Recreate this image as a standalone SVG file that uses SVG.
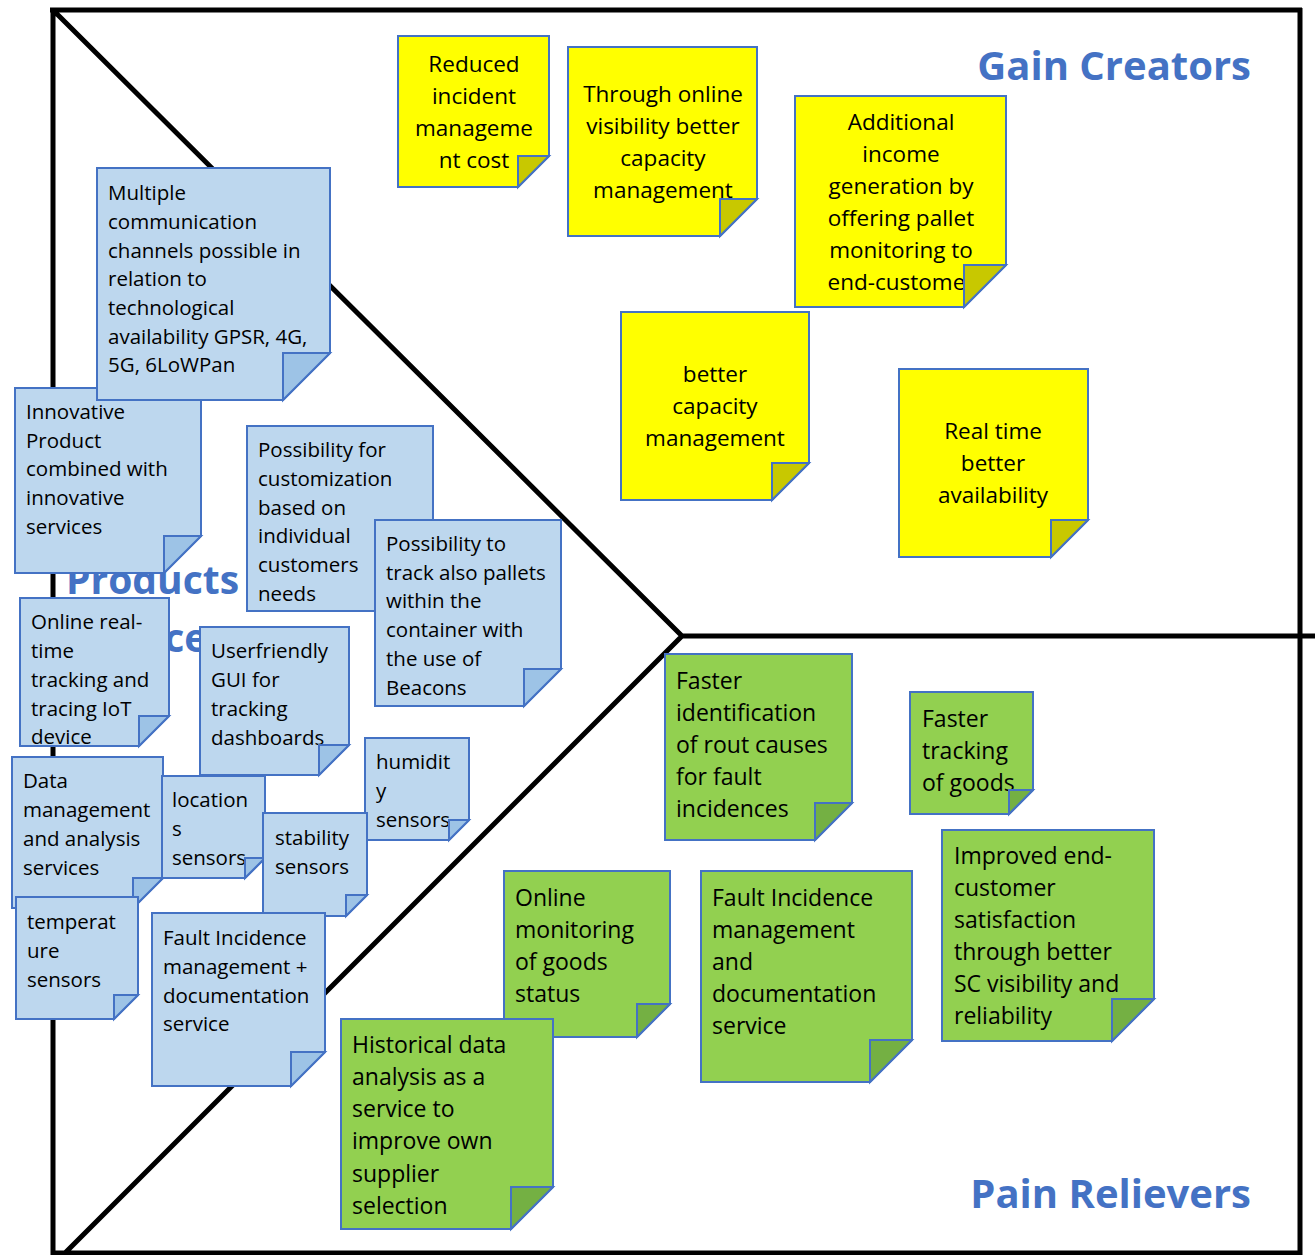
<svg xmlns="http://www.w3.org/2000/svg" width="1315" height="1255" viewBox="0 0 1315 1255">
<style>
.frame{stroke:#000;stroke-width:5;fill:none}
.b{fill:#BDD7EE;stroke:#4472C4;stroke-width:2}
.bf{fill:#9DC3E6;stroke:#4472C4;stroke-width:2;stroke-linejoin:miter}
.y{fill:#FFFF00;stroke:#4472C4;stroke-width:2}
.yf{fill:#C8C800;stroke:#4472C4;stroke-width:2}
.g{fill:#92D050;stroke:#4472C4;stroke-width:2}
.gf{fill:#74B043;stroke:#4472C4;stroke-width:2}
text{font-family:'Open Sans','Liberation Sans',sans-serif;fill:#000}
.tb{font-size:20.5px}
.tg{font-size:23px}
.ty{font-size:22.5px;text-anchor:middle}
.title{font-size:40px;font-weight:bold;fill:#4472C4}
.ps{font-size:39px;font-weight:bold;fill:#4472C4}
</style>
<rect width="1315" height="1255" fill="#fff"/>
<g id="canvas">
<path class="frame" d="M50 10 H1302 M53 8 V1255 M1300 8 V1255 M53 1253 H1300 M55 12 L682 636 L55 1263 M682 636 H1315"/>
</g>
<g id="titles">
<text class="title" x="1251" y="80" text-anchor="end">Gain Creators</text>
<text class="title" x="1251" y="1208" text-anchor="end">Pain Relievers</text>
<text class="ps" x="66" y="594">Products</text>
<text class="ps" x="68" y="652">Services</text>
</g>
<g id="connectors"></g>

<g id="y1"><path class="y" d="M398 36 H549 V156 L518 187 H398 Z"/>
<text class="ty"><tspan x="474" y="72">Reduced</tspan><tspan x="474" y="104">incident</tspan><tspan x="474" y="136">manageme</tspan><tspan x="474" y="168">nt cost</tspan></text>
<path class="yf" d="M518 187 V156 H549 Z"/></g>

<g id="y2"><path class="y" d="M568 47 H757 V199 L720 236 H568 Z"/>
<text class="ty"><tspan x="663" y="102">Through online</tspan><tspan x="663" y="134">visibility better</tspan><tspan x="663" y="166">capacity</tspan><tspan x="663" y="198">management</tspan></text>
<path class="yf" d="M720 236 V199 H757 Z"/></g>

<g id="y3"><path class="y" d="M795 96 H1006 V265 L964 307 H795 Z"/>
<text class="ty"><tspan x="901" y="130">Additional</tspan><tspan x="901" y="162">income</tspan><tspan x="901" y="194">generation by</tspan><tspan x="901" y="226">offering pallet</tspan><tspan x="901" y="258">monitoring to</tspan><tspan x="901" y="290">end-customer</tspan></text>
<path class="yf" d="M964 307 V265 H1006 Z"/></g>

<g id="y4"><path class="y" d="M621 312 H809 V463 L772 500 H621 Z"/>
<text class="ty"><tspan x="715" y="382">better</tspan><tspan x="715" y="414">capacity</tspan><tspan x="715" y="446">management</tspan></text>
<path class="yf" d="M772 500 V463 H809 Z"/></g>

<g id="y5"><path class="y" d="M899 369 H1088 V520 L1051 557 H899 Z"/>
<text class="ty"><tspan x="993" y="439">Real time</tspan><tspan x="993" y="471">better</tspan><tspan x="993" y="503">availability</tspan></text>
<path class="yf" d="M1051 557 V520 H1088 Z"/></g>

<g id="b2"><path class="b" d="M15 388 H201 V536 L164 573 H15 Z"/>
<text class="tb"><tspan x="26" y="419">Innovative</tspan><tspan x="26" y="448">Product</tspan><tspan x="26" y="476">combined with</tspan><tspan x="26" y="505">innovative</tspan><tspan x="26" y="534">services</tspan></text>
<path class="bf" d="M164 573 V536 H201 Z"/></g>

<g id="b1"><path class="b" d="M97 168 H330 V353 L283 400 H97 Z"/>
<text class="tb"><tspan x="108" y="200">Multiple</tspan><tspan x="108" y="229">communication</tspan><tspan x="108" y="258">channels possible in</tspan><tspan x="108" y="286">relation to</tspan><tspan x="108" y="315">technological</tspan><tspan x="108" y="344">availability GPSR, 4G,</tspan><tspan x="108" y="372">5G, 6LoWPan</tspan></text>
<path class="bf" d="M283 400 V353 H330 Z"/></g>

<g id="b3"><path class="b" d="M247 426 H433 V574 L396 611 H247 Z"/>
<text class="tb"><tspan x="258" y="457">Possibility for</tspan><tspan x="258" y="486">customization</tspan><tspan x="258" y="515">based on</tspan><tspan x="258" y="543">individual</tspan><tspan x="258" y="572">customers</tspan><tspan x="258" y="601">needs</tspan></text>
<path class="bf" d="M396 611 V574 H433 Z"/></g>

<g id="b4"><path class="b" d="M375 520 H561 V669 L524 706 H375 Z"/>
<text class="tb"><tspan x="386" y="551">Possibility to</tspan><tspan x="386" y="580">track also pallets</tspan><tspan x="386" y="608">within the</tspan><tspan x="386" y="637">container with</tspan><tspan x="386" y="666">the use of</tspan><tspan x="386" y="695">Beacons</tspan></text>
<path class="bf" d="M524 706 V669 H561 Z"/></g>

<g id="b5"><path class="b" d="M20 598 H169 V716 L139 746 H20 Z"/>
<text class="tb"><tspan x="31" y="629">Online real-</tspan><tspan x="31" y="658">time</tspan><tspan x="31" y="687">tracking and</tspan><tspan x="31" y="716">tracing IoT</tspan><tspan x="31" y="744">device</tspan></text>
<path class="bf" d="M139 746 V716 H169 Z"/></g>

<g id="b6"><path class="b" d="M200 627 H349 V745 L319 775 H200 Z"/>
<text class="tb"><tspan x="211" y="658">Userfriendly</tspan><tspan x="211" y="687">GUI for</tspan><tspan x="211" y="716">tracking</tspan><tspan x="211" y="745">dashboards</tspan></text>
<path class="bf" d="M319 775 V745 H349 Z"/></g>

<g id="b7"><path class="b" d="M12 757 H163 V878 L133 908 H12 Z"/>
<text class="tb"><tspan x="23" y="788">Data</tspan><tspan x="23" y="817">management</tspan><tspan x="23" y="846">and analysis</tspan><tspan x="23" y="875">services</tspan></text>
<path class="bf" d="M133 908 V878 H163 Z"/></g>

<g id="b8"><path class="b" d="M162 776 H265 V858 L245 878 H162 Z"/>
<text class="tb"><tspan x="172" y="807">location</tspan><tspan x="172" y="836">s</tspan><tspan x="172" y="865">sensors</tspan></text>
<path class="bf" d="M245 878 V858 H265 Z"/></g>

<g id="b9"><path class="b" d="M365 738 H469 V820 L449 840 H365 Z"/>
<text class="tb"><tspan x="376" y="769">humidit</tspan><tspan x="376" y="798">y</tspan><tspan x="376" y="827">sensors</tspan></text>
<path class="bf" d="M449 840 V820 H469 Z"/></g>

<g id="b10"><path class="b" d="M263 813 H367 V895 L346 916 H263 Z"/>
<text class="tb"><tspan x="275" y="845">stability</tspan><tspan x="275" y="874">sensors</tspan></text>
<path class="bf" d="M346 916 V895 H367 Z"/></g>

<g id="b11"><path class="b" d="M16 897 H138 V995 L114 1019 H16 Z"/>
<text class="tb"><tspan x="27" y="929">temperat</tspan><tspan x="27" y="958">ure</tspan><tspan x="27" y="987">sensors</tspan></text>
<path class="bf" d="M114 1019 V995 H138 Z"/></g>

<g id="b12"><path class="b" d="M152 913 H325 V1052 L291 1086 H152 Z"/>
<text class="tb"><tspan x="163" y="945">Fault Incidence</tspan><tspan x="163" y="974">management +</tspan><tspan x="163" y="1003">documentation</tspan><tspan x="163" y="1031">service</tspan></text>
<path class="bf" d="M291 1086 V1052 H325 Z"/></g>

<g id="g1"><path class="g" d="M665 654 H852 V803 L815 840 H665 Z"/>
<text class="tg"><tspan x="676" y="689">Faster</tspan><tspan x="676" y="721">identification</tspan><tspan x="676" y="753">of rout causes</tspan><tspan x="676" y="785">for fault</tspan><tspan x="676" y="817">incidences</tspan></text>
<path class="gf" d="M815 840 V803 H852 Z"/></g>

<g id="g2"><path class="g" d="M910 692 H1033 V790 L1009 814 H910 Z"/>
<text class="tg"><tspan x="922" y="727">Faster</tspan><tspan x="922" y="759">tracking</tspan><tspan x="922" y="791">of goods</tspan></text>
<path class="gf" d="M1009 814 V790 H1033 Z"/></g>

<g id="g3"><path class="g" d="M942 830 H1154 V999 L1112 1041 H942 Z"/>
<text class="tg"><tspan x="954" y="864">Improved end-</tspan><tspan x="954" y="896">customer</tspan><tspan x="954" y="928">satisfaction</tspan><tspan x="954" y="960">through better</tspan><tspan x="954" y="992">SC visibility and</tspan><tspan x="954" y="1024">reliability</tspan></text>
<path class="gf" d="M1112 1041 V999 H1154 Z"/></g>

<g id="g4"><path class="g" d="M504 871 H670 V1004 L637 1037 H504 Z"/>
<text class="tg"><tspan x="515" y="906">Online</tspan><tspan x="515" y="938">monitoring</tspan><tspan x="515" y="970">of goods</tspan><tspan x="515" y="1002">status</tspan></text>
<path class="gf" d="M637 1037 V1004 H670 Z"/></g>

<g id="g5"><path class="g" d="M701 871 H912 V1040 L870 1082 H701 Z"/>
<text class="tg"><tspan x="712" y="906">Fault Incidence</tspan><tspan x="712" y="938">management</tspan><tspan x="712" y="970">and</tspan><tspan x="712" y="1002">documentation</tspan><tspan x="712" y="1034">service</tspan></text>
<path class="gf" d="M870 1082 V1040 H912 Z"/></g>

<g id="g6"><path class="g" d="M341 1019 H553 V1187 L511 1229 H341 Z"/>
<text class="tg"><tspan x="352" y="1053">Historical data</tspan><tspan x="352" y="1085">analysis as a</tspan><tspan x="352" y="1117">service to</tspan><tspan x="352" y="1149">improve own</tspan><tspan x="352" y="1182">supplier</tspan><tspan x="352" y="1214">selection</tspan></text>
<path class="gf" d="M511 1229 V1187 H553 Z"/></g>
</svg>
